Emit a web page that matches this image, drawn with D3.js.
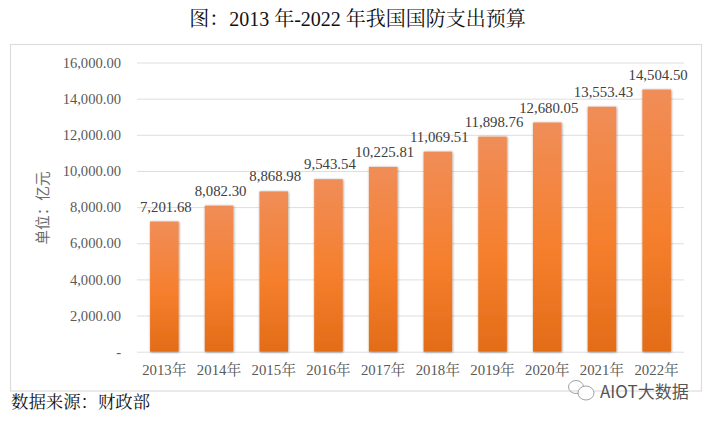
<!DOCTYPE html>
<html><head><meta charset="utf-8">
<script src="https://cdn.jsdelivr.net/npm/d3@7"></script>
<style>html,body{margin:0;padding:0;background:#fff}svg{display:block}</style>
</head><body><div id="c"></div>
<script>
const years=["2013年","2014年","2015年","2016年","2017年","2018年","2019年","2020年","2021年","2022年"];
const budget=[7201.68,8082.30,8868.98,9543.54,10225.81,11069.51,11898.76,12680.05,13553.43,14504.50];
const yTicks=[0,2000,4000,6000,8000,10000,12000,14000,16000];
const titleText="图：2013 年-2022 年我国国防支出预算";
const sourceText="数据来源：财政部";
const axisTitle="单位：亿元";
const watermark="AIOT大数据";
const serif='"Liberation Serif","Noto Serif CJK SC","Noto Sans CJK SC",serif';
const W=711,H=422;
const svg=d3.select("#c").append("svg").attr("width",W).attr("height",H).attr("viewBox",[0,0,W,H]);
const defs=svg.append("defs");
const g=defs.append("linearGradient").attr("id","bar").attr("x1",0).attr("x2",0).attr("y1",0).attr("y2",1);
g.append("stop").attr("offset","0%").attr("stop-color","#F08D58");
g.append("stop").attr("offset","55%").attr("stop-color","#F57F2D");
g.append("stop").attr("offset","100%").attr("stop-color","#E36C18");
const f=defs.append("filter").attr("id","sh").attr("x","-30%").attr("y","-5%").attr("width","160%").attr("height","110%");
f.append("feDropShadow").attr("dx",0.5).attr("dy",0.5).attr("stdDeviation",1.3).attr("flood-color","#000").attr("flood-opacity",0.45);

svg.append("rect").attr("x",10.5).attr("y",44.5).attr("width",691).attr("height",346.5).attr("fill","#fff").attr("stroke","#DCDCDC").attr("stroke-width",1.2);

const x=d3.scaleBand().domain(years).range([137,684]).paddingInner(0.478).paddingOuter(0.239);
const y=d3.scaleLinear().domain([0,16000]).range([351.7,62.5]);
const fmt=v=>v===0?"-":d3.format(",.2f")(v);

const yAxis=d3.axisLeft(y).tickValues(yTicks).tickFormat(fmt).tickSize(-547).tickPadding(16);
const ya=svg.append("g").attr("transform","translate(137,0)").call(yAxis);
ya.select(".domain").remove();
ya.selectAll(".tick line").attr("stroke","#DEDEDE").attr("stroke-width",1);
ya.selectAll(".tick text").attr("fill","#595959").attr("font-family",serif).attr("font-size",14.6);

svg.selectAll("rect.b").data(budget).join("rect").attr("class","b")
 .attr("x",(d,i)=>x(years[i])).attr("width",x.bandwidth())
 .attr("y",d=>y(d)).attr("height",d=>y(0)-y(d))
 .attr("fill","url(#bar)").attr("filter","url(#sh)");

svg.selectAll("text.v").data(budget).join("text").attr("class","v")
 .attr("x",(d,i)=>x(years[i])+x.bandwidth()/2+1.5).attr("y",d=>y(d)-10)
 .attr("text-anchor","middle").attr("fill","#404040").attr("font-family",serif).attr("font-size",14.8)
 .text(d=>d3.format(",.2f")(d));

const xAxis=d3.axisBottom(x).tickSize(0).tickPadding(13);
const xa=svg.append("g").attr("transform","translate(0,351.7)").call(xAxis);
xa.select(".domain").remove();
xa.selectAll(".tick text").attr("fill","#595959").attr("font-family",serif).attr("font-size",14.8);

svg.append("text").attr("transform","translate(41.5,208) rotate(-90)").attr("text-anchor","middle").attr("dominant-baseline","central")
 .attr("fill","#6a6a6a").attr("font-family",'"Noto Sans CJK SC",sans-serif').attr("font-size",14.6).text(axisTitle);
svg.append("text").attr("x",357.5).attr("y",26).attr("text-anchor","middle").attr("fill","#111")
 .attr("font-family",serif).attr("font-size",20).text(titleText);
svg.append("text").attr("x",11).attr("y",408).attr("fill","#111")
 .attr("font-family",serif).attr("font-size",17.4).text(sourceText);
svg.append("text").attr("x",600).attr("y",398).attr("fill","#555")
 .attr("font-family",'"Noto Sans CJK SC",sans-serif').attr("font-size",17).text(watermark);
const wm=svg.append("g").attr("fill","none").attr("stroke","#8a8a8a").attr("stroke-width",0.8);
wm.append("ellipse").attr("cx",576).attr("cy",387).attr("rx",7.5).attr("ry",6.5);
wm.append("ellipse").attr("cx",586).attr("cy",393).attr("rx",8).attr("ry",7).attr("fill","#fff");
</script></body></html>
